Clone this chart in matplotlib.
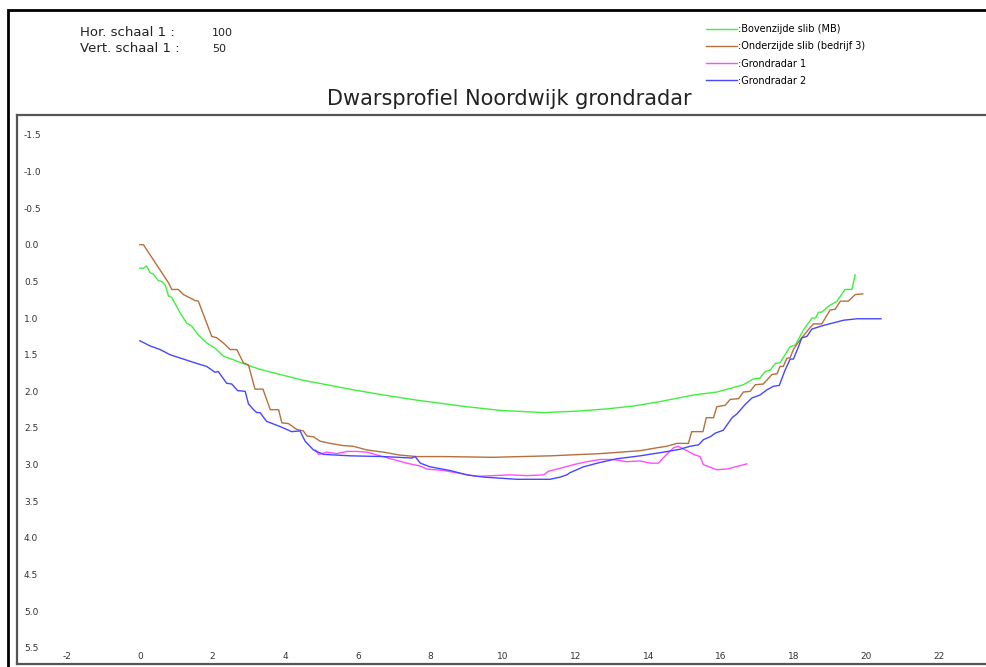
import matplotlib
matplotlib.use("Agg")
import matplotlib.pyplot as plt
import matplotlib.patches as patches
import numpy as np

plt.rcParams['axes.unicode_minus'] = False

# Bovenzijde slib (MB)
x_boven = [0, 0.1, 0.19, 0.28, 0.37, 0.51, 0.6, 0.7, 0.79, 0.88, 1.11, 1.29, 1.43, 1.61, 1.84,
           2.07, 2.3, 2.58, 2.95, 3.31, 3.86, 4.5, 5.15, 5.88, 6.71, 7.62, 8.54, 9.0, 9.92,
           11.11, 12.03, 12.85, 13.59, 14.32, 15.24, 15.88, 16.25, 16.61, 16.89, 17.07, 17.21,
           17.35, 17.49, 17.62, 17.76, 17.9, 18.04, 18.27, 18.5, 18.6, 18.68, 18.77, 18.95,
           19.19, 19.41, 19.6, 19.69]
y_boven = [0.32, 0.32, 0.29, 0.38, 0.40, 0.49, 0.50, 0.55, 0.70, 0.72, 0.93, 1.07, 1.11, 1.23, 1.34,
           1.41, 1.52, 1.57, 1.64, 1.70, 1.77, 1.85, 1.91, 1.98, 2.05, 2.12, 2.18, 2.21, 2.26,
           2.29, 2.27, 2.24, 2.20, 2.14, 2.05, 2.01, 1.96, 1.91, 1.83, 1.82, 1.73,
           1.71, 1.62, 1.61, 1.50, 1.39, 1.37, 1.16, 1.0, 1.0, 0.92, 0.92, 0.84,
           0.77, 0.61, 0.61, 0.41]

# Onderzijde slib (bedrijf 3)
x_onder = [0, 0.1, 0.79, 0.88, 1.06, 1.2, 1.52, 1.61, 1.98, 2.12, 2.30, 2.49, 2.67, 2.85, 2.99,
           3.17, 3.39, 3.59, 3.82, 3.91, 4.09, 4.32, 4.5, 4.6, 4.78, 4.96, 5.24, 5.6, 5.88,
           6.25, 6.71, 7.16, 7.62, 8.36, 9.73, 11.29, 12.67, 13.77, 14.23, 14.5, 14.78, 15.1,
           15.19, 15.5, 15.59, 15.79, 15.88, 16.11, 16.25, 16.48, 16.61, 16.8, 16.94, 17.16,
           17.4, 17.54, 17.62, 17.71, 17.81, 17.9, 17.99, 18.08, 18.22, 18.4, 18.54, 18.77,
           19.0, 19.14, 19.28, 19.5, 19.69, 19.9]
y_onder = [0.0, 0.0, 0.52, 0.61, 0.61, 0.68, 0.76, 0.77, 1.25, 1.27, 1.34, 1.43, 1.43, 1.61, 1.64,
           1.97, 1.97, 2.25, 2.25, 2.43, 2.44, 2.52, 2.54, 2.61, 2.62, 2.68, 2.71, 2.74, 2.75,
           2.80, 2.83, 2.87, 2.89, 2.89, 2.90, 2.88, 2.85, 2.81, 2.77, 2.75, 2.71, 2.71,
           2.55, 2.55, 2.36, 2.36, 2.21, 2.19, 2.11, 2.10, 2.01, 2.0, 1.91, 1.90,
           1.77, 1.76, 1.66, 1.66, 1.55, 1.54, 1.43, 1.36, 1.27, 1.16, 1.08, 1.08,
           0.89, 0.88, 0.77, 0.77, 0.68, 0.67]

# Grondradar 1
x_gr1 = [4.83, 4.92, 5.15, 5.42, 5.70, 5.97, 6.25, 6.61, 6.98, 7.35, 7.72, 7.9, 8.36, 8.82,
         9.28, 9.73, 10.19, 10.65, 11.11, 11.25, 11.57, 11.94, 12.3, 12.67, 13.04, 13.4,
         13.77, 14.05, 14.27, 14.5, 14.69, 14.82, 15.06, 15.24, 15.42, 15.51, 15.88, 16.16, 16.71]
y_gr1 = [2.80, 2.86, 2.83, 2.85, 2.82, 2.82, 2.83, 2.88, 2.93, 2.98, 3.02, 3.06, 3.08, 3.12,
         3.16, 3.15, 3.14, 3.15, 3.14, 3.09, 3.05, 3.0, 2.96, 2.93, 2.93, 2.96,
         2.95, 2.98, 2.98, 2.86, 2.77, 2.75, 2.81, 2.86, 2.89, 3.0, 3.07, 3.06, 2.99]

# Grondradar 2
x_gr2 = [0, 0.28, 0.56, 0.83, 1.2, 1.57, 1.84, 2.07, 2.16, 2.39, 2.53, 2.69, 2.9, 2.99, 3.13,
         3.22, 3.31, 3.49, 3.86, 4.18, 4.41, 4.55, 4.78, 5.05, 5.79, 6.71, 7.49, 7.58, 7.72,
         7.99, 8.54, 9.0, 9.46, 10.38, 11.29, 11.57, 11.75, 11.84, 12.21, 12.67, 13.13, 13.77,
         14.41, 14.87, 15.14, 15.38, 15.51, 15.7, 15.84, 16.06, 16.3, 16.43, 16.66, 16.85,
         17.07, 17.26, 17.44, 17.6, 17.76, 17.9, 17.99, 18.13, 18.22, 18.36, 18.5, 18.82,
         19.37, 19.74, 20.4]
y_gr2 = [1.31, 1.38, 1.43, 1.50, 1.56, 1.62, 1.66, 1.74, 1.73, 1.89, 1.90, 1.99, 2.0, 2.17, 2.25,
         2.29, 2.29, 2.41, 2.48, 2.55, 2.54, 2.68, 2.80, 2.86, 2.88, 2.89, 2.91, 2.89, 2.98,
         3.03, 3.08, 3.14, 3.17, 3.20, 3.20, 3.17, 3.14, 3.11, 3.03, 2.97, 2.92, 2.88,
         2.83, 2.79, 2.75, 2.73, 2.66, 2.62, 2.57, 2.53, 2.36, 2.31, 2.18, 2.09,
         2.05, 1.98, 1.93, 1.92, 1.71, 1.56, 1.56, 1.39, 1.27, 1.25, 1.15, 1.10,
         1.03, 1.01, 1.01]

labels = [':Bovenzijde slib (MB)', ':Onderzijde slib (bedrijf 3)', ':Grondradar 1', ':Grondradar 2']
colors = ['#3ef03e', '#b5703c', '#ff4dff', '#4747ff']

xticks = np.arange(-2, 23, 2)
yticks = np.arange(-1.5, 5.6, 0.5)

fig = plt.figure(figsize=(9.87, 6.67), dpi=100)
ax = fig.add_axes([17/987, 3/667, 973/987, 549/667])

ax.plot(x_boven, y_boven, color=colors[0], lw=1.0, label=labels[0])
ax.plot(x_onder, y_onder, color=colors[1], lw=1.0, label=labels[1])
ax.plot(x_gr1, y_gr1, color=colors[2], lw=1.0, label=labels[2])
ax.plot(x_gr2, y_gr2, color=colors[3], lw=1.0, label=labels[3])

ax.set_xlim(-3.38, 23.40)
ax.set_ylim(5.72, -1.77)
ax.set_xticks(xticks)
ax.set_yticks(yticks)
ax.set_xticklabels([str(v) for v in xticks])
ax.set_yticklabels(['%.1f' % v for v in yticks])
ax.tick_params(axis='both', length=0, labelsize=6.5, colors='#333333')
ax.tick_params(axis='y', pad=-5)
ax.tick_params(axis='x', pad=-2)
for lab in ax.get_yticklabels():
    lab.set_ha('left')
for lab in ax.get_xticklabels():
    lab.set_va('bottom')
for s in ax.spines.values():
    s.set_color('#555555')
    s.set_linewidth(1.6)

# outer drawing frame
fig.patches.append(patches.Rectangle((8/987, -0.02), 1.1, (667-10)/667 + 0.02,
                                     transform=fig.transFigure, fill=False,
                                     edgecolor='black', lw=2.0, clip_on=False))

fig.text(509/987, (667-105)/667, 'Dwarsprofiel Noordwijk grondradar', ha='center',
         va='baseline', fontsize=15, color='#222222')
fig.text(80/987, (667-36)/667, 'Hor. schaal 1 :', fontsize=9.5, va='baseline', color='#222222')
fig.text(80/987, (667-52)/667, 'Vert. schaal 1 :', fontsize=9.5, va='baseline', color='#222222')
fig.text(212/987, (667-36)/667, '100', fontsize=8, va='baseline', color='#222222')
fig.text(212/987, (667-52)/667, '50', fontsize=8, va='baseline', color='#222222')

fig.legend(loc='upper left', bbox_to_anchor=(706/987, (667-24)/667), frameon=False,
           fontsize=7, handlelength=3.2, handletextpad=0.1, labelspacing=0.75,
           borderpad=0, borderaxespad=0)

plt.savefig('out.png', dpi=100)
